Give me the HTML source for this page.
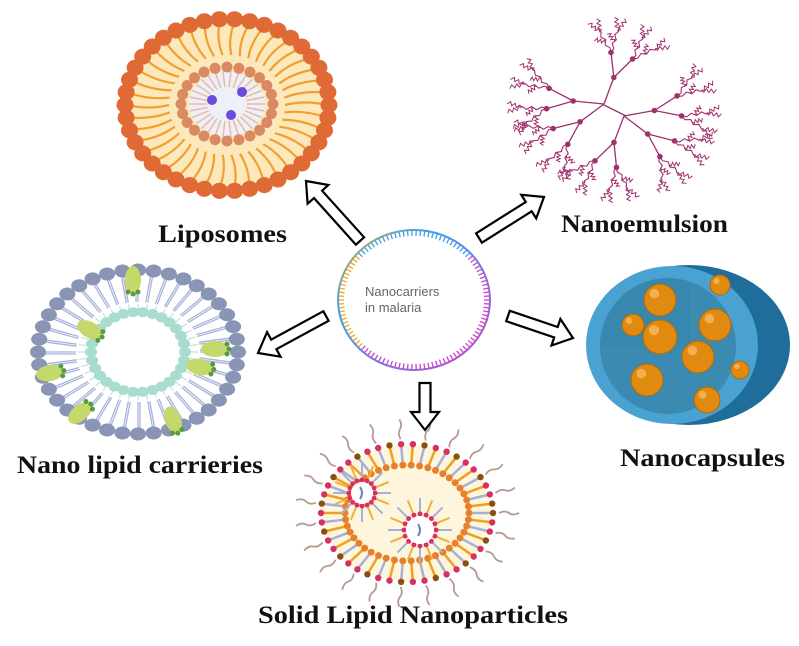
<!DOCTYPE html>
<html><head><meta charset="utf-8"><style>
html,body{margin:0;padding:0;background:#fff;width:799px;height:646px;overflow:hidden}
svg{display:block}
text.lb{font-family:"Liberation Serif",serif;font-weight:bold;fill:#111}
</style></head><body>
<svg id="s" width="799" height="646" viewBox="0 0 799 646" xmlns="http://www.w3.org/2000/svg">
<rect width="799" height="646" fill="#fff"/>
<g id="g"></g>
<text class="lb" x="158" y="242" font-size="25" textLength="129" lengthAdjust="spacingAndGlyphs">Liposomes</text>
<text class="lb" x="561" y="232" font-size="25" textLength="167" lengthAdjust="spacingAndGlyphs">Nanoemulsion</text>
<text class="lb" x="17" y="473" font-size="25" textLength="246" lengthAdjust="spacingAndGlyphs">Nano lipid carrieries</text>
<text class="lb" x="620" y="466" font-size="25" textLength="165" lengthAdjust="spacingAndGlyphs">Nanocapsules</text>
<text class="lb" x="258" y="623" font-size="25" textLength="310" lengthAdjust="spacingAndGlyphs">Solid Lipid Nanoparticles</text>
<text x="365" y="296" font-family="Liberation Sans,sans-serif" font-size="13" fill="#666">Nanocarriers</text>
<text x="365" y="312" font-family="Liberation Sans,sans-serif" font-size="13" fill="#666">in malaria</text>
</svg>
<script>
var g=document.getElementById('g'),h='';
function C(x,y,r,f,e){h+='<circle cx="'+x.toFixed(1)+'" cy="'+y.toFixed(1)+'" r="'+r+'" fill="'+f+'"'+(e||'')+'/>';}
function E(x,y,rx,ry,f,e){h+='<ellipse cx="'+x+'" cy="'+y+'" rx="'+rx+'" ry="'+ry+'" fill="'+f+'"'+(e||'')+'/>';}
function L(a,b,c,d,s,w){h+='<line x1="'+a.toFixed(1)+'" y1="'+b.toFixed(1)+'" x2="'+c.toFixed(1)+'" y2="'+d.toFixed(1)+'" stroke="'+s+'" stroke-width="'+w+'"/>';}
var P=Math.PI;
// Liposome
(function(){var cx=227,cy=105;
E(cx,cy,100,83,'#fde8bc');
var n=42;for(var i=0;i<n;i++){var a=2*P*i/n,c=Math.cos(a),s=Math.sin(a);
 h+='<path d="M'+(cx+100*c)+' '+(cy+83*s)+' Q'+(cx+78*c+5*s)+' '+(cy+66*s-5*c)+' '+(cx+58*c)+' '+(cy+50*s)+'" stroke="#f0a030" stroke-width="2.2" fill="none"/>';}
for(var i=0;i<n;i++){var a=2*P*i/n;E((cx+102*Math.cos(a)).toFixed(1),(cy+86*Math.sin(a)).toFixed(1),8.5,8,'#df6a35');}
E(cx,cy-1,38,32,'#eef0f8');
for(var i=0;i<30;i++){var a=2*P*i/30;L(cx+20*Math.cos(a),cy-1+17*Math.sin(a),cx+38*Math.cos(a),cy-1+33*Math.sin(a),'#e8b8a8',1.5);}
for(var i=0;i<24;i++){var a=2*P*i/24;C(cx+46*Math.cos(a),cy-1+37*Math.sin(a),5.5,'#d98a62');}
C(212,100,5,'#6a4be0');C(242,92,5,'#6a4be0');C(231,115,5,'#6a4be0');
})();
// Nanoemulsion dendrimer
(function(){var col='#a0306e';
function wav(x,y,a,len){var x2=x+len*Math.cos(a),y2=y+len*Math.sin(a)*0.9;var pts='M'+x.toFixed(1)+' '+y.toFixed(1);
 for(var k=1;k<=6;k++){var t=k/6,w=(k%2?1.8:-1.8);pts+=' L'+(x+(x2-x)*t-w*Math.sin(a)).toFixed(1)+' '+(y+(y2-y)*t+w*Math.cos(a)).toFixed(1);}
 h+='<path d="'+pts+'" stroke="'+col+'" stroke-width="1" fill="none"/>';}
function br(x,y,a,len,d){var x2=x+len*Math.cos(a),y2=y+len*Math.sin(a)*0.9;
 if(d>=2){var pts='M'+x.toFixed(1)+' '+y.toFixed(1);for(var k=1;k<=5;k++){var t=k/5,w=(k%2?1.5:-1.5);pts+=' L'+(x+(x2-x)*t-w*Math.sin(a)).toFixed(1)+' '+(y+(y2-y)*t+w*Math.cos(a)).toFixed(1);}
  h+='<path d="'+pts+'" stroke="'+col+'" stroke-width="1.1" fill="none"/>';
  wav(x2,y2,a-0.35,15);wav(x2,y2,a+0.35,15);
  var mx=(x+x2)/2,my=(y+y2)/2;wav(mx,my,a-0.8,11);return;}
 L(x,y,x2,y2,col,1.3);C(x2,y2,2.8,col);
 var sp=[0.42,0.36][d];br(x2,y2,a-sp,len*0.9,d+1);br(x2,y2,a+sp,len*0.9,d+1);}
var cx=614,cy=110;
var base=[[-10,-6,-1.25],[10,6,1.9],[-10,-6,3.25],[10,6,-0.2],[-10,-6,2.45],[10,6,0.7]];
L(cx-12,cy-6,cx+12,cy+6,col,1.3);
for(var i=0;i<base.length;i++){br(cx+base[i][0],cy+base[i][1],base[i][2],31,0);}
})();
// Nano lipid carriers
(function(){var cx=138,cy=352;
var n=40;for(var i=0;i<n;i++){var a=2*P*i/n,c=Math.cos(a),s=Math.sin(a);
 L(cx+95*c,cy+78*s,cx+62*c,cy+50*s,'#a8b4dc',1.3);L(cx+95*c+2*s,cy+78*s-2*c,cx+62*c+2*s,cy+50*s-2*c,'#a8b4dc',1.3);
 L(cx+60*c,cy+48*s,cx+52*c,cy+41*s,'#bfe6de',1.3);}
for(var i=0;i<n;i++){var a=2*P*i/n;E((cx+100*Math.cos(a)).toFixed(1),(cy+82*Math.sin(a)).toFixed(1),8,6.5,'#8a95b5');}
for(var i=0;i<30;i++){var a=2*P*i/30;E((cx+47*Math.cos(a)).toFixed(1),(cy+40*Math.sin(a)).toFixed(1),6,5,'#a8dccf');}
var pr=[[133,280,90],[90,330,30],[215,349,0],[200,367,10],[50,373,-10],[80,413,-40],[173,420,70]];
pr.forEach(function(p){h+='<g transform="translate('+p[0]+','+p[1]+') rotate('+p[2]+')"><ellipse rx="14" ry="8" fill="#c5d86a"/><circle cx="12" cy="5" r="2.5" fill="#5a9a40"/><circle cx="14" cy="0" r="2.5" fill="#5a9a40"/><circle cx="12" cy="-5" r="2.5" fill="#5a9a40"/></g>';});
})();
// Nanocapsule
E(689,345,101,80,'#1e6d9a');
E(672,345,86,79,'#4aa2d2');
E(668,346,68,68,'#3a8ab2');
h+='<path d="M600 346 A68 68 0 0 1 690 282 L690 346 Z" fill="#3586ad" opacity="0.6"/>';
[[660,300,16],[715,325,16],[660,337,17],[698,357,16],[647,380,16],[633,325,11],[707,400,13],[720,285,10],[740,370,9]].forEach(function(o){
 C(o[0],o[1],o[2],'#e08a10',' stroke="#b06a08" stroke-width="1"');C(o[0]-o[2]*0.35,o[1]-o[2]*0.4,o[2]*0.3,'#f4b050');});
// SLN
(function(){var cx=407,cy=513;
E(cx,cy,85,68,'#fdf6dc');
var n=46;for(var i=0;i<n;i++){var a=2*P*i/n,c=Math.cos(a),s=Math.sin(a);
 L(cx+84*c,cy+67*s,cx+62*c,cy+48*s,i%2?'#f0a020':'#a8b0d8',2.5);C(cx+62*c,cy+48*s,3.5,'#e8802a');
 C(cx+86*c,cy+69*s,3.2,i%3?'#d83060':'#8a5010');
 if(i%2==0){var x=cx+92*c,y=cy+74*s;h+='<path d="M'+x.toFixed(1)+' '+y.toFixed(1)+' q'+(6*c+3*s).toFixed(1)+' '+(6*s-3*c).toFixed(1)+' '+(10*c).toFixed(1)+' '+(10*s).toFixed(1)+' t'+(10*c).toFixed(1)+' '+(10*s).toFixed(1)+'" stroke="#b89890" stroke-width="1.8" fill="none"/>';}}
[[362,493,13],[420,530,16]].forEach(function(o){for(var i=0;i<16;i++){var a=2*P*i/16,c=Math.cos(a),s=Math.sin(a);
 L(o[0]+o[2]*c,o[1]+o[2]*s,o[0]+(o[2]+16)*c,o[1]+(o[2]+16)*s,i%2?'#f0b040':'#a8b0d8',2);C(o[0]+o[2]*c,o[1]+o[2]*s,2.5,'#d83060');}
 C(o[0],o[1],o[2]-2,'#fff');h+='<path d="M'+(o[0]-2)+' '+(o[1]+6)+' q4 -6 0 -12" stroke="#6a80c0" stroke-width="2" fill="none"/>';});
})();
// center circle
(function(){var cx=414,cy=300,rx=76,ry=70;
for(var i=0;i<110;i++){var a=2*P*i/110,c=Math.cos(a),s=Math.sin(a);var deg=(a*180/P+360)%360;
 var col=(deg>=220&&deg<318)?'#3aa0f0':((deg>=135&&deg<220)?'#f0a820':'#d040c8');
 L(cx+rx*c,cy+ry*s,cx+(rx-6)*c,cy+(ry-6)*s,col,1.3);}
h+='<ellipse cx="'+cx+'" cy="'+cy+'" rx="'+rx+'" ry="'+ry+'" fill="none" stroke="url(#gr)" stroke-width="2"/>';
})();
// arrows
function A(x1,y1,x2,y2){var dx=x2-x1,dy=y2-y1,l=Math.hypot(dx,dy),ux=dx/l,uy=dy/l,px=-uy,py=ux,sw=5.5,hw=14,hl=18,bx=x2-ux*hl,by=y2-uy*hl;
 var p=[[x1+px*sw,y1+py*sw],[bx+px*sw,by+py*sw],[bx+px*hw,by+py*hw],[x2,y2],[bx-px*hw,by-py*hw],[bx-px*sw,by-py*sw],[x1-px*sw,y1-py*sw]];
 h+='<polygon points="'+p.map(function(q){return q[0].toFixed(1)+','+q[1].toFixed(1)}).join(' ')+'" fill="#fff" stroke="#000" stroke-width="2.2"/>';}
A(360,241,306,181);A(479,238,544,197);A(326,316,258,353);A(508,316,573,338);A(425,383,425,430);
g.innerHTML='<defs><linearGradient id="gr" x1="0" y1="0" x2="1" y2="1"><stop offset="0" stop-color="#f0a820"/><stop offset="0.3" stop-color="#3aa0f0"/><stop offset="1" stop-color="#d040c8"/></linearGradient></defs>'+h;
</script>
</body></html>
